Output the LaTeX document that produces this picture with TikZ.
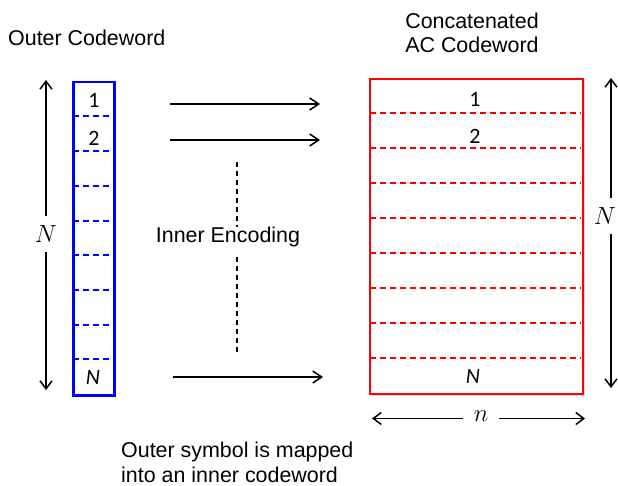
\documentclass[tikz,border=0pt]{standalone}
\usepackage{fontspec}
\setmainfont{Liberation Sans}
\newfontfamily\cellfont{Carlito}
\usetikzlibrary{arrows.meta}
\usetikzlibrary{shadows}

\begin{document}
\begin{tikzpicture}[x=1bp,y=-1bp,
  lbl/.style={font=\fontsize{21.5}{24.5}\selectfont,inner sep=0pt},
  cell/.style={font=\cellfont\fontsize{22}{24}\selectfont,inner sep=0pt},
  dimlbl/.style={font=\fontsize{27}{30}\selectfont,inner xsep=2pt,inner ysep=9pt},
  sep/.style={dash pattern=on 6bp off 4bp,line width=2bp},
  map/.style={-{Straight Barb[length=9pt,width=12pt]},line width=1.5bp},
  dimarrow/.style={-{Straight Barb[length=8pt,width=12pt]},line width=1.5bp},
  shade/.style={drop shadow={shadow xshift=2pt,shadow yshift=-2pt,opacity=0.3}}]
\useasboundingbox (0,0) rectangle (618,486);

% the two codewords
\node[draw=blue,line width=2.5bp,fill=white,shade,minimum width=41bp,minimum height=313bp,inner sep=0pt,anchor=north west] (outer) at (72,81) {};
\node[draw=red,line width=1.6bp,fill=white,shade,minimum width=213bp,minimum height=315bp,inner sep=0pt,anchor=north west] (inner) at (369,78) {};
\foreach \y in {116,151,186,221,255,290,325,359}
  \draw[blue,sep] (73,\y) -- (112,\y);
\foreach \y in {113,148,183,218,253,288,323,358}
  \draw[red,sep,line width=1.6bp] (370,\y) -- (581,\y);

\node[cell] (o1) at (94,100) {1};
\node[cell] (o2) at (94,138) {2};
\node[cell] (oN) at (93,377) {\itshape N};
\node[cell] (i1) at (475,99) {1};
\node[cell] (i2) at (475,136) {2};
\node[cell] (iN) at (473,376) {\itshape N};

% titles
\node[lbl,anchor=base west] (otitle) at (8,46) {Outer Codeword};
\node[lbl,align=center,anchor=north] (ititle) at (472,12.5) {Concatenated\\AC Codeword};

% inner encoding
\coordinate (a1) at (170,104);
\coordinate (b1) at (320,104);
\coordinate (a2) at (170,140);
\coordinate (b2) at (320,140);
\coordinate (a3) at (173,377);
\coordinate (b3) at (323,377);
\draw[map] (a1) -- (b1);
\draw[map] (a2) -- (b2);
\draw[map] (a3) -- (b3);
\node[lbl,anchor=base] (enc) at (228,243) {Inner Encoding};
\coordinate (dtop) at (237,162);
\coordinate (dbot) at (237,353);
\draw[dash pattern=on 5bp off 4bp,line width=1.5bp] (dtop) -- (enc.north -| dtop);
\draw[dash pattern=on 5bp off 4bp,line width=1.5bp] (enc.south -| dtop) ++(0,9) -- (dbot);

% dimensions
\coordinate (ltop) at (46,80);
\coordinate (lbot) at (46,390);
\node[dimlbl] (lN) at (46,234) {$N$};
\draw[dimarrow] (lN) -- (ltop);
\draw[dimarrow] (lN) -- (lbot);
\coordinate (rtop) at (611,78);
\coordinate (rbot) at (611,388);
\node[dimlbl] (rN) at (605,216) {$N$};
\draw[dimarrow] (rN.north -| rtop) -- (rtop);
\draw[dimarrow] (rN.south -| rbot) -- (rbot);
\coordinate (nleft) at (372,418.5);
\coordinate (nright) at (585,418.5);
\node[dimlbl,inner xsep=11pt,inner ysep=2pt] (nn) at (481,416) {$n$};
\draw[dimarrow] (nn.west |- nleft) -- (nleft);
\draw[dimarrow] (nn.east |- nright) -- (nright);

% note
\node[lbl,align=left,anchor=north west] (note) at (121,442) {Outer symbol is mapped\\into an inner codeword};
\end{tikzpicture}
\end{document}
